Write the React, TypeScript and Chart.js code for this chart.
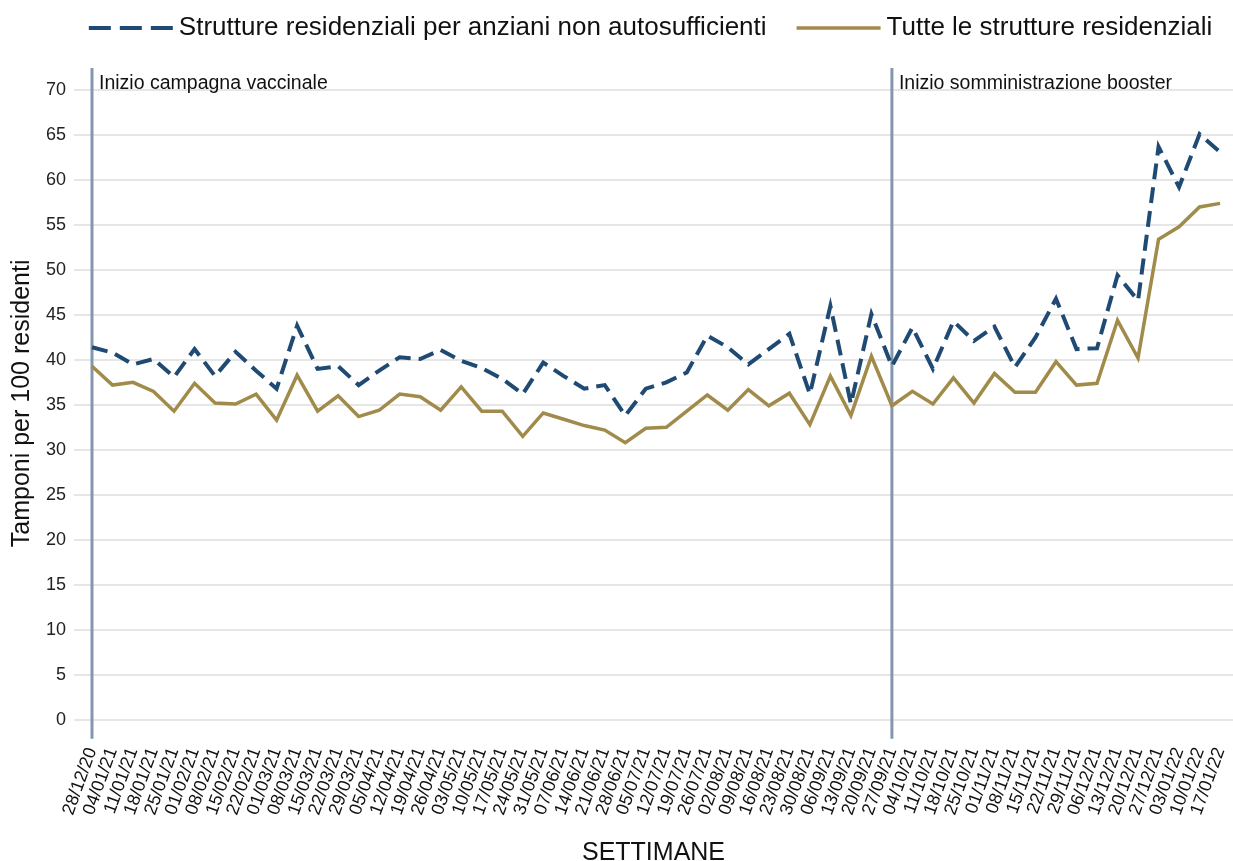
import React, { useEffect, useRef } from 'react';
import { Chart, registerables } from 'chart.js';

Chart.register(...registerables);

const weeks: string[] = [
  '28/12/20', '04/01/21', '11/01/21', '18/01/21', '25/01/21', '01/02/21', '08/02/21', '15/02/21',
  '22/02/21', '01/03/21', '08/03/21', '15/03/21', '22/03/21', '29/03/21', '05/04/21', '12/04/21',
  '19/04/21', '26/04/21', '03/05/21', '10/05/21', '17/05/21', '24/05/21', '31/05/21', '07/06/21',
  '14/06/21', '21/06/21', '28/06/21', '05/07/21', '12/07/21', '19/07/21', '26/07/21', '02/08/21',
  '09/08/21', '16/08/21', '23/08/21', '30/08/21', '06/09/21', '13/09/21', '20/09/21', '27/09/21',
  '04/10/21', '11/10/21', '18/10/21', '25/10/21', '01/11/21', '08/11/21', '15/11/21', '22/11/21',
  '29/11/21', '06/12/21', '13/12/21', '20/12/21', '27/12/21', '03/01/22', '10/01/22', '17/01/22',
];

const rsaAnziani: number[] = [
  41.4, 40.8, 39.5, 40.1, 38.1, 41.2, 38.2, 40.9, 38.8, 36.8,
  43.8, 39.0, 39.3, 37.2, 38.8, 40.3, 40.1, 41.1, 39.9, 39.1,
  37.9, 36.2, 39.7, 38.2, 36.8, 37.2, 33.8, 36.8, 37.5, 38.6,
  42.7, 41.4, 39.5, 41.2, 42.9, 36.2, 46.0, 35.1, 45.1, 39.3,
  43.6, 39.0, 44.3, 42.1, 43.7, 39.2, 42.5, 46.8, 41.2, 41.3,
  49.4, 46.6, 63.7, 59.2, 65.1, 63.1,
];

const tutteStrutture: number[] = [
  39.3, 37.2, 37.5, 36.5, 34.3, 37.4, 35.2, 35.1, 36.2, 33.3,
  38.3, 34.3, 36.0, 33.7, 34.4, 36.2, 35.9, 34.4, 37.0, 34.3,
  34.3, 31.5, 34.1, 33.4, 32.7, 32.2, 30.8, 32.4, 32.5, 34.3,
  36.1, 34.4, 36.7, 34.9, 36.3, 32.8, 38.2, 33.8, 40.4, 34.9,
  36.5, 35.1, 38.0, 35.2, 38.5, 36.4, 36.4, 39.8, 37.2, 37.4,
  44.4, 40.2, 53.4, 54.8, 57.0, 57.4,
];

const yTicks: number[] = [0, 5, 10, 15, 20, 25, 30, 35, 40, 45, 50, 55, 60, 65, 70];

const markerWeeks: string[] = ['28/12/20', '27/09/21'];
const markerLabels: string[] = ['Inizio campagna vaccinale', 'Inizio somministrazione booster'];

const seriesNames: string[] = [
  'Strutture residenziali per anziani non autosufficienti',
  'Tutte le strutture residenziali',
];

const FONT = "'Liberation Sans', Arial, Helvetica, sans-serif";

const legendPlugin = {
  id: 'customLegend',
  afterDraw(chart: any) {
    const { ctx, chartArea } = chart;
    const sets = chart.data.datasets;
    const sampleW = 84;
    const gapText = 6;
    const gapItems = 30;
    const cy = 28;
    ctx.save();
    ctx.font = `26px ${FONT}`;
    const widths = sets.map((d: any) => sampleW + gapText + ctx.measureText(d.label).width);
    const total = widths.reduce((a: number, b: number) => a + b, 0) + gapItems * (sets.length - 1);
    let x = (chartArea.left + chartArea.right) / 2 - total / 2 - 3;
    sets.forEach((d: any, i: number) => {
      ctx.beginPath();
      ctx.setLineDash(d.borderDash ? [22, 9] : []);
      ctx.lineWidth = d.borderWidth;
      ctx.strokeStyle = d.borderColor;
      ctx.moveTo(x, cy);
      ctx.lineTo(x + sampleW, cy);
      ctx.stroke();
      ctx.setLineDash([]);
      ctx.fillStyle = '#111';
      ctx.textAlign = 'left';
      ctx.textBaseline = 'middle';
      ctx.fillText(d.label, x + sampleW + gapText, cy);
      x += widths[i] + gapItems;
    });
    ctx.restore();
  },
};

const markerPlugin = {
  id: 'markerPlugin',
  beforeDatasetsDraw(chart: any) {
    const { ctx, chartArea, scales } = chart;
    const x = scales.x;
    ctx.save();
    ctx.strokeStyle = '#8497b0';
    ctx.lineWidth = 3;
    markerWeeks.forEach((w) => {
      const px = x.getPixelForValue(weeks.indexOf(w));
      ctx.beginPath();
      ctx.moveTo(px, chartArea.top);
      ctx.lineTo(px, chartArea.bottom);
      ctx.stroke();
    });
    ctx.restore();
  },
  afterDraw(chart: any) {
    const { ctx, chartArea, scales } = chart;
    const x = scales.x;
    ctx.save();
    ctx.fillStyle = '#111';
    ctx.font = `19.5px ${FONT}`;
    ctx.textAlign = 'left';
    ctx.textBaseline = 'middle';
    markerWeeks.forEach((w, i) => {
      const px = x.getPixelForValue(weeks.indexOf(w));
      ctx.fillText(markerLabels[i], px + 7, chartArea.top + 15.5);
    });
    ctx.restore();
  },
};

export default function App() {
  const canvasRef = useRef<HTMLCanvasElement | null>(null);

  useEffect(() => {
    if (!canvasRef.current) return;
    const chart = new Chart(canvasRef.current, {
      type: 'line',
      data: {
        datasets: [
          {
            label: seriesNames[0],
            data: rsaAnziani.map((v, i) => ({ x: i, y: v })),
            borderColor: '#1f4a73',
            backgroundColor: '#1f4a73',
            borderWidth: 4,
            borderDash: [16, 8],
            pointRadius: 0,
            tension: 0,
            fill: false,
          },
          {
            label: seriesNames[1],
            data: tutteStrutture.map((v, i) => ({ x: i, y: v })),
            borderColor: '#a08b4a',
            backgroundColor: '#a08b4a',
            borderWidth: 3.5,
            pointRadius: 0,
            tension: 0,
            fill: false,
          },
        ],
      },
      options: {
        animation: false,
        responsive: true,
        maintainAspectRatio: false,
        layout: { padding: { left: 0, right: 0, top: 68, bottom: 0 } },
        plugins: {
          legend: { display: false },
          tooltip: { enabled: false },
        },
        scales: {
          x: {
            type: 'linear',
            min: -0.877,
            max: 55.63,
            offset: false,
            grid: { display: false, drawTicks: false },
            border: { display: false },
            afterBuildTicks: (scale: any) => {
              scale.ticks = weeks.map((_, i) => ({ value: i }));
            },
            afterFit: (scale: any) => {
              scale.paddingLeft = 0;
              scale.paddingRight = 0;
            },
            ticks: {
              autoSkip: false,
              minRotation: 70,
              maxRotation: 70,
              padding: 6,
              color: '#111',
              font: { family: FONT, size: 18 },
              callback: (v: any) => weeks[Math.round(Number(v))] ?? '',
            },
            title: {
              display: true,
              text: 'SETTIMANE',
              color: '#111',
              font: { family: FONT, size: 25, lineHeight: 0.64 },
              padding: { top: 21, bottom: 0 },
            },
          },
          y: {
            type: 'linear',
            min: -2.12,
            max: 72.45,
            grid: { color: '#e6e6e6', lineWidth: 2, drawTicks: false },
            border: { display: false },
            afterBuildTicks: (scale: any) => {
              scale.ticks = yTicks.map((v) => ({ value: v }));
            },
            ticks: {
              padding: 8,
              color: '#222',
              font: { family: FONT, size: 18 },
              callback: (v: any) => String(v),
            },
            title: {
              display: true,
              text: 'Tamponi per 100 residenti',
              color: '#111',
              font: { family: FONT, size: 25, lineHeight: 1 },
              padding: { top: 9.5, bottom: 3.5 },
            },
          },
        },
      },
      plugins: [legendPlugin, markerPlugin],
    } as any);
    return () => chart.destroy();
  }, []);

  return (
    <div style={{ position: 'fixed', left: 0, top: 0, width: 1233, height: 861, background: '#fff' }}>
      <canvas ref={canvasRef} />
    </div>
  );
}
